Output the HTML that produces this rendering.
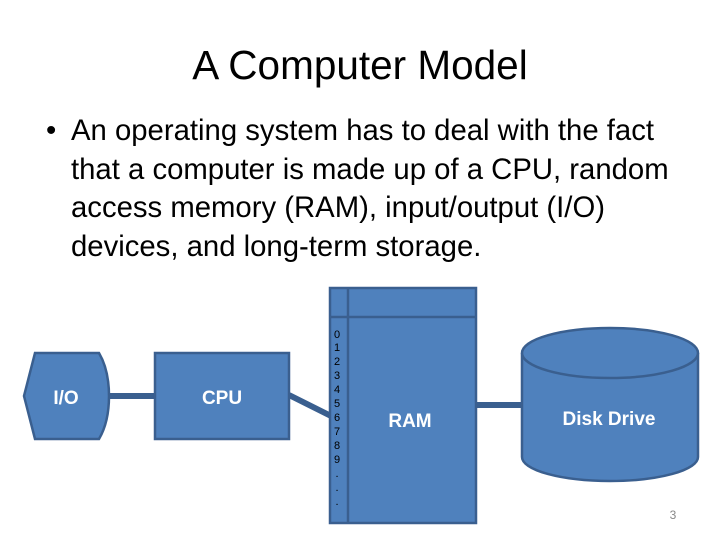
<!DOCTYPE html>
<html><head><style>
body{margin:0;width:720px;height:540px;background:#fff;overflow:hidden;font-family:"Liberation Sans",sans-serif;}
.t{position:absolute;left:0;width:720px;text-align:center;top:42px;font-size:40.5px;color:#000;white-space:nowrap}
.b{position:absolute;left:71px;top:112px;font-size:29.3px;line-height:38.5px;color:#000;width:649px;white-space:nowrap}
.dot{position:absolute;left:-25px;top:0}
</style></head><body>
<div class="t">A Computer Model</div>
<div class="b"><span class="dot">•</span>An operating system has to deal with the fact<br>that a computer is made up of a CPU, random<br>access memory (RAM), input/output (I/O)<br>devices, and long-term storage.</div>
<svg width="720" height="540" style="position:absolute;left:0;top:0" font-family="Liberation Sans, sans-serif">
<g stroke="#3a5f8f" stroke-width="6">
<line x1="106" y1="396" x2="156" y2="396"/>
<line x1="289" y1="395" x2="331" y2="416"/>
<line x1="476" y1="405" x2="523" y2="405"/>
</g>
<g fill="#4f81bd" stroke="#3a5f8f" stroke-width="2.5">
<path d="M35,353 L99,353 Q109,370 109,396 Q109,422 99,439 L35,439 L24,396 Z"/>
<rect x="155" y="353" width="134" height="86"/>
<rect x="330" y="288" width="146" height="235"/>
<path d="M522,353 L522,457 A88,24 0 0 0 698,457 L698,353"/>
<ellipse cx="610" cy="353" rx="88" ry="25"/>
</g>
<g stroke="#3a5f8f" stroke-width="2.5">
<line x1="348" y1="288" x2="348" y2="523"/>
<line x1="330" y1="317" x2="476" y2="317"/>
</g>
<g fill="#fff" font-size="19" font-weight="bold" text-anchor="middle">
<text x="66" y="404">I/O</text>
<text x="222" y="404">CPU</text>
<text x="410" y="427">RAM</text>
<text x="609" y="425">Disk Drive</text>
</g>
<g fill="#000" font-size="11" text-anchor="middle">
<text x="337" y="338">0</text><text x="337" y="351">1</text><text x="337" y="365">2</text><text x="337" y="379">3</text><text x="337" y="393">4</text><text x="337" y="407">5</text><text x="337" y="421">6</text><text x="337" y="435">7</text><text x="337" y="449">8</text><text x="337" y="463">9</text><text x="337" y="477">.</text><text x="337" y="491">.</text><text x="337" y="505">.</text>
</g>
<text x="673" y="519" font-size="12" fill="#888" text-anchor="middle">3</text>
</svg>
</body></html>
